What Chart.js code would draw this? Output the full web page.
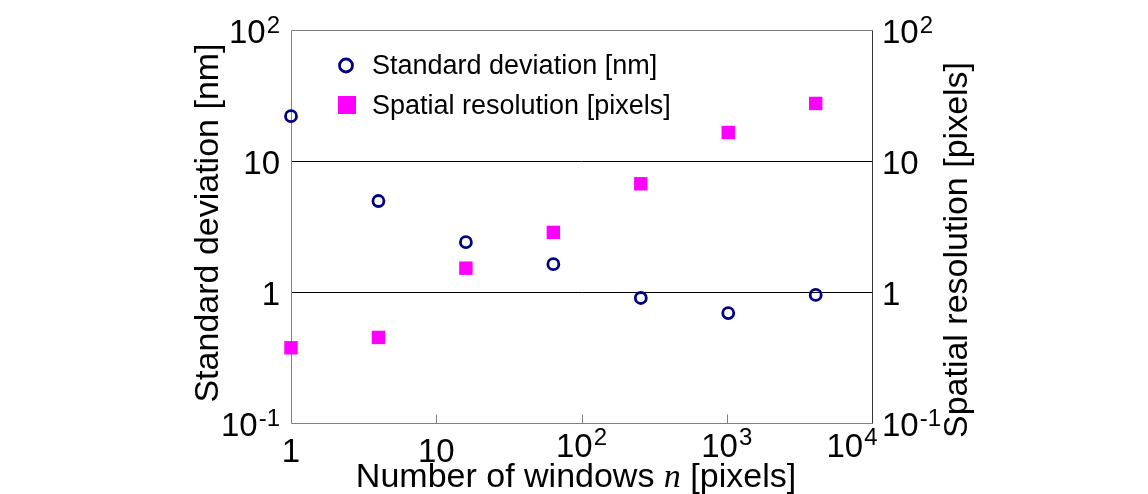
<!DOCTYPE html>
<html lang="en">
<head>
  <meta charset="UTF-8">
  <title>Standard deviation and spatial resolution vs number of windows</title>
  <script src="https://cdn.jsdelivr.net/npm/chart.js"></script>
  <style>
    html, body {
      margin: 0;
      padding: 0;
      background: #ffffff;
    }
    canvas {
      display: block;
    }
  </style>
</head>
<body>
  <canvas id="chart" width="1148" height="494"></canvas>

  <script>
    // data
    const windows = [1, 4, 16, 64, 256, 1024, 4096];
    const stdDev = [22, 4.95, 2.4, 1.63, 0.9, 0.69, 0.95];
    const spatialRes = [0.375, 0.45, 1.52, 2.85, 6.7, 16.5, 27.5];
    const seriesNames = ['Standard deviation [nm]', 'Spatial resolution [pixels]'];

    const xTicks = [1, 10, 100, 1000, 10000];
    const xTickLabels = ['1', '10', '10^2', '10^3', '10^4'];
    const yTicks = [0.1, 1, 10, 100];
    const yTickLabels = ['10^-1', '1', '10', '10^2'];
    const gridValues = [1, 10];

    const FONT = '"Liberation Sans", Arial, sans-serif';
    const navy = '#000080';
    const magenta = '#ff00ff';

    function toPoints(ys) {
      return windows.map((x, i) => ({ x: x, y: ys[i] }));
    }

    // label like "10^2": base + raised exponent
    function drawPowLabel(ctx, label, x, baseY, align, supDrop) {
      const parts = label.split('^');
      ctx.font = '33px ' + FONT;
      const wb = ctx.measureText(parts[0]).width;
      let ws = 0;
      if (parts[1]) {
        ctx.font = '24px ' + FONT;
        ws = ctx.measureText(parts[1]).width + 1;
      }
      const total = wb + ws;
      let x0 = x;
      if (align === 'right') x0 = x - total;
      if (align === 'center') x0 = x - total / 2;
      ctx.textAlign = 'left';
      ctx.textBaseline = 'alphabetic';
      ctx.font = '33px ' + FONT;
      ctx.fillText(parts[0], x0, baseY);
      if (parts[1]) {
        ctx.font = '24px ' + FONT;
        ctx.fillText(parts[1], x0 + wb + 1, baseY - supDrop);
      }
    }

    function line(ctx, x1, y1, x2, y2) {
      ctx.beginPath();
      ctx.moveTo(x1, y1);
      ctx.lineTo(x2, y2);
      ctx.stroke();
    }

    const decor = {
      id: 'decor',
      beforeDatasetsDraw(chart) {
        const { ctx, chartArea: a, scales } = chart;
        ctx.save();
        ctx.lineWidth = 1;

        // horizontal grid lines at 1 and 10
        ctx.strokeStyle = '#000000';
        gridValues.forEach(v => {
          const y = Math.round(scales.y.getPixelForValue(v)) + 0.5;
          line(ctx, a.left, y, a.right, y);
        });

        // frame
        const l = Math.round(a.left) + 0.5, r = Math.round(a.right) + 0.5;
        const t = Math.round(a.top) + 0.5, b = Math.round(a.bottom) + 0.5;
        ctx.strokeStyle = '#808080';
        line(ctx, l, t, r, t);
        line(ctx, l, t, l, b);
        line(ctx, l, b, r, b);
        ctx.strokeStyle = '#333333';
        line(ctx, r, t, r, b);

        // small inner ticks on the x axis
        ctx.strokeStyle = '#808080';
        xTicks.slice(1, -1).forEach(v => {
          const x = Math.round(scales.x.getPixelForValue(v)) + 0.5;
          line(ctx, x, b, x, b - 9);
        });
        ctx.restore();
      },
      afterDraw(chart) {
        const { ctx, chartArea: a, scales } = chart;
        ctx.save();
        ctx.fillStyle = '#000000';

        // y tick labels, both sides
        yTicks.forEach((v, i) => {
          const y = scales.y.getPixelForValue(v) + 13;
          drawPowLabel(ctx, yTickLabels[i], a.left - 11, y, 'right', 10);
          drawPowLabel(ctx, yTickLabels[i], a.right + 10, y, 'left', 10);
        });

        // x tick labels
        xTicks.forEach((v, i) => {
          let x = scales.x.getPixelForValue(v);
          const lab = xTickLabels[i];
          if (i === xTicks.length - 1) x -= 20;
          const y = lab.indexOf('^') >= 0 ? a.bottom + 34 : a.bottom + 39;
          drawPowLabel(ctx, lab, x, y, 'center', 12);
        });

        // x title with italic n
        const t1 = 'Number of windows ', tn = 'n', t2 = ' [pixels]';
        ctx.font = '34px ' + FONT;
        const w1 = ctx.measureText(t1).width, w2 = ctx.measureText(t2).width;
        ctx.font = 'italic 34px "Liberation Serif", "Times New Roman", serif';
        const wn = ctx.measureText(tn).width;
        let tx = 576 - (w1 + wn + w2) / 2;
        const ty = 487;
        ctx.textAlign = 'left';
        ctx.textBaseline = 'alphabetic';
        ctx.font = '34px ' + FONT;
        ctx.fillText(t1, tx, ty);
        ctx.font = 'italic 34px "Liberation Serif", "Times New Roman", serif';
        ctx.fillText(tn, tx + w1, ty);
        ctx.font = '34px ' + FONT;
        ctx.fillText(t2, tx + w1 + wn, ty);

        // y titles
        ctx.textAlign = 'center';
        ctx.save();
        ctx.translate(218, 223);
        ctx.rotate(-Math.PI / 2);
        ctx.fillText('Standard deviation [nm]', 0, 0);
        ctx.restore();
        ctx.save();
        ctx.translate(967, 250);
        ctx.rotate(-Math.PI / 2);
        ctx.fillText('Spatial resolution [pixels]', 0, 0);
        ctx.restore();

        // legend inside the plot
        ctx.strokeStyle = navy;
        ctx.lineWidth = 2.8;
        ctx.beginPath();
        ctx.arc(346, 65.5, 6.5, 0, Math.PI * 2);
        ctx.stroke();
        ctx.fillStyle = magenta;
        ctx.fillRect(338, 96, 18, 18);
        ctx.fillStyle = '#000000';
        ctx.font = '27px ' + FONT;
        ctx.textAlign = 'left';
        ctx.fillText(seriesNames[0], 372, 74);
        ctx.fillText(seriesNames[1], 372, 114);
        ctx.restore();
      }
    };

    const axisBase = {
      type: 'logarithmic',
      ticks: { display: false },
      grid: { display: false },
      border: { display: false }
    };

    new Chart(document.getElementById('chart'), {
      type: 'scatter',
      data: {
        datasets: [
          {
            label: seriesNames[0],
            data: toPoints(stdDev),
            yAxisID: 'y',
            pointStyle: 'circle',
            pointRadius: 5.5,
            borderWidth: 2.8,
            borderColor: navy,
            backgroundColor: 'rgba(0,0,0,0)',
            clip: false
          },
          {
            label: seriesNames[1],
            data: toPoints(spatialRes),
            yAxisID: 'y2',
            pointStyle: 'rect',
            pointRadius: 9.5,
            borderWidth: 0,
            borderColor: magenta,
            backgroundColor: magenta,
            clip: false
          }
        ]
      },
      options: {
        responsive: false,
        animation: false,
        layout: { padding: { top: 30 } },
        plugins: {
          legend: { display: false },
          tooltip: { enabled: false }
        },
        scales: {
          x: Object.assign({}, axisBase, {
            min: 1, max: 10000,
            afterFit: s => { s.height = 71; }
          }),
          y: Object.assign({}, axisBase, {
            position: 'left',
            min: 0.1, max: 100,
            afterFit: s => { s.width = 291; }
          }),
          y2: Object.assign({}, axisBase, {
            position: 'right',
            min: 0.1, max: 100,
            afterFit: s => { s.width = 276; }
          })
        }
      },
      plugins: [decor]
    });
  </script>
</body>
</html>
